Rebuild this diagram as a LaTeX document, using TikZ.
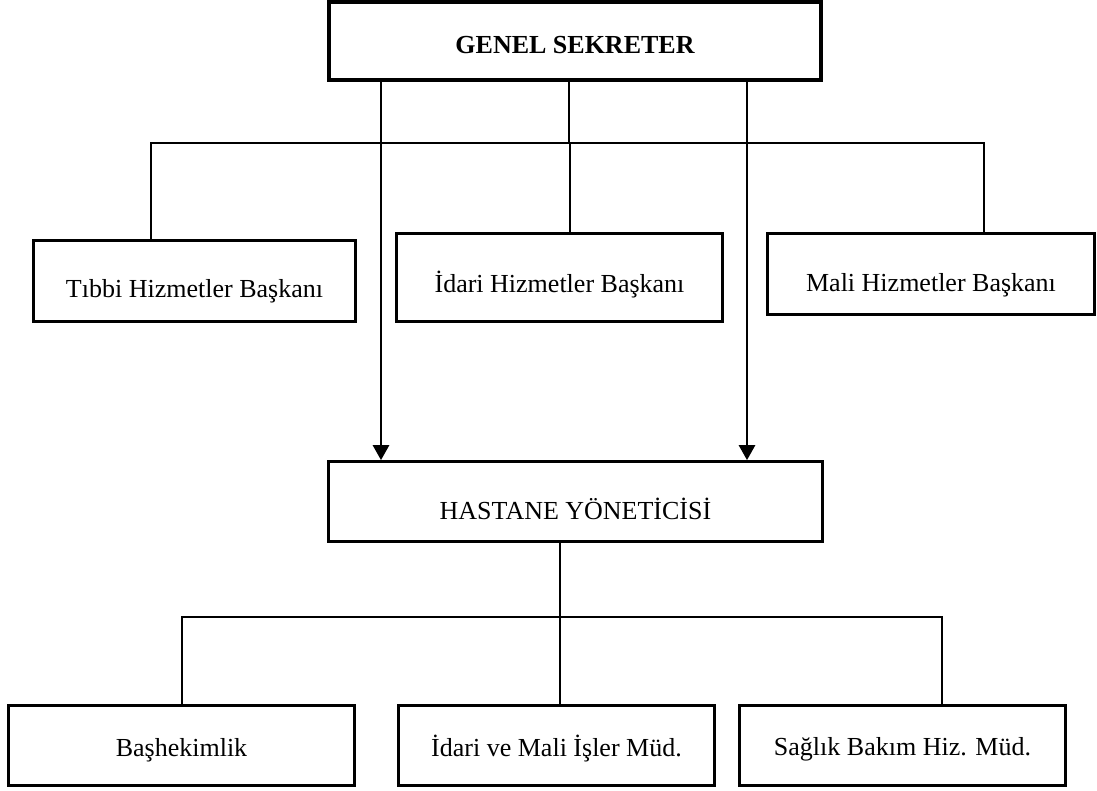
\documentclass[tikz,border=0pt]{standalone}
\usepackage{fontspec}
\setmainfont{Liberation Serif}
\usetikzlibrary{arrows.meta}
\begin{document}
\begin{tikzpicture}[x=1pt,y=-1pt,
  box/.style={draw, line width=2.7pt, rectangle, inner sep=0pt, text depth=0pt, font=\fontsize{26}{30}\selectfont},
  bl/.style={text height=#1},
  conn/.style={line width=2pt},
  arr/.style={line width=2.7pt, -{Triangle[length=15pt,width=16pt]}}]
\useasboundingbox (0,0) rectangle (1097,791);
% boxes
\node[box, bl=25pt, line width=4pt, minimum width=492pt, minimum height=78pt, font=\fontsize{26}{30}\selectfont\bfseries] (gs) at (575,41) {GENEL SEKRETER};
\node[box, bl=33pt, minimum width=322pt, minimum height=81pt] (tibbi) at (194.5,281) {Tıbbi Hizmetler Başkanı};
\node[box, bl=30pt, minimum width=326pt, minimum height=88pt] (idari) at (559.5,277.5) {İdari Hizmetler Başkanı};
\node[box, bl=35pt, minimum width=327pt, minimum height=81pt] (mali) at (931,274) {Mali Hizmetler Başkanı};
\node[box, bl=36pt, minimum width=494pt, minimum height=80pt] (hy) at (575.5,501.5) {HASTANE YÖNETİCİSİ};
\node[box, bl=22pt, minimum width=346pt, minimum height=80pt] (bas) at (181.5,745.5) {Başhekimlik};
\node[box, bl=21pt, minimum width=316pt, minimum height=80pt] (imi) at (556.5,745.5) {İdari ve Mali İşler Müd.};
\node[box, bl=20pt, minimum width=326pt, minimum height=80pt] (sbh) at (902.5,745.5) {Sağlık Bakım Hiz. Müd.};
% helper coordinates
\coordinate (a1) at (381,0);
\coordinate (a2) at (747,0);
\coordinate (b0) at (569,143);
\coordinate (b1) at (151,143);
\coordinate (b3) at (984,143);
\coordinate (idx) at (570,0);
\coordinate (c0) at (560,617);
\coordinate (c1) at (182,617);
\coordinate (c3) at (942,617);
% arrows
\draw[arr] (gs.south -| a1) -- (hy.north -| a1);
\draw[arr] (gs.south -| a2) -- (hy.north -| a2);
% upper bus
\draw[conn] (gs.south -| b0) -- (b0);
\draw[conn] (tibbi.north -| b1) -- (b1) -- (b3) -- (mali.north -| b3);
\draw[conn] (b0 -| idx) -- (idari.north -| idx);
% lower bus
\draw[conn] (hy.south -| c0) -- (c0);
\draw[conn] (bas.north -| c1) -- (c1) -- (c3) -- (sbh.north -| c3);
\draw[conn] (c0) -- (imi.north -| c0);
\end{tikzpicture}
\end{document}
